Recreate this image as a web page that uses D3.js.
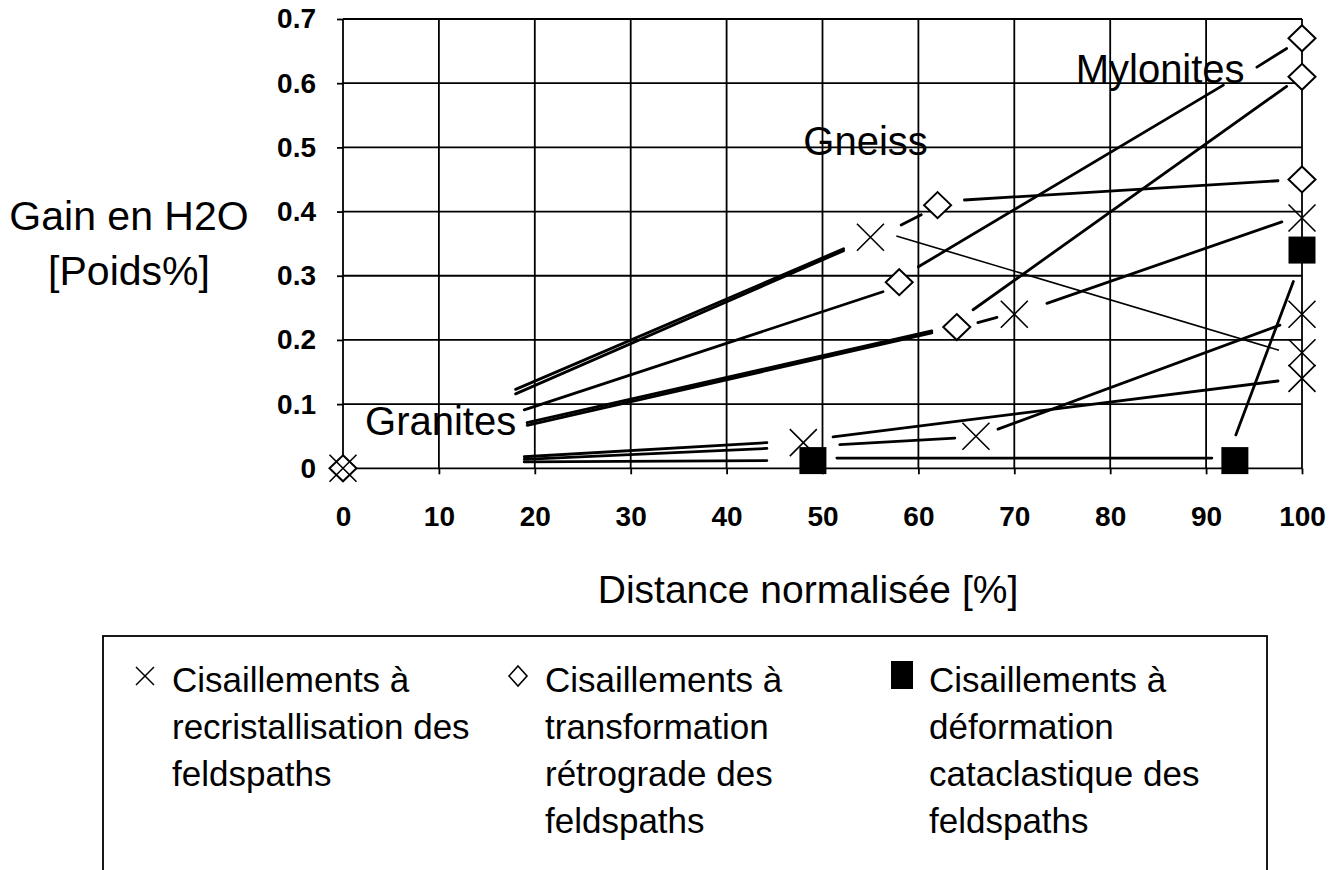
<!DOCTYPE html>
<html>
<head>
<meta charset="utf-8">
<script src="https://cdn.jsdelivr.net/npm/d3@7"></script>
<style>
  body { margin: 0; background: #fff; }
  svg text { font-family: "Liberation Sans", Arial, Helvetica, sans-serif; fill: #000; }
  .tick text { font-weight: bold; font-size: 28px; }
  .tick line { stroke: #000; stroke-width: 1.8; }
  .grid line { stroke: #000; stroke-width: 1.8; }
  .conn { stroke: #000; stroke-width: 2.8; stroke-linecap: round; }
  .conn-thin { stroke: #000; stroke-width: 1.6; }
</style>
</head>
<body>
<div id="chart"></div>
<script>
// axis ticks
var xTicks = [0, 10, 20, 30, 40, 50, 60, 70, 80, 90, 100];
var yTicks = [0, 0.1, 0.2, 0.3, 0.4, 0.5, 0.6, 0.7];

// measured points [distance %, gain H2O wt%]
var recristallisation = [[0, 0], [48, 0.04], [55, 0.36], [66, 0.05], [70, 0.24],
  [100, 0.39], [100, 0.24], [100, 0.18], [100, 0.14]];
var retrograde = [[0, 0], [58, 0.29], [62, 0.41], [64, 0.22],
  [100, 0.67], [100, 0.61], [100, 0.45]];
var cataclastique = [[49, 0.012], [93, 0.012], [100, 0.34]];

// hand drawn connecting segments [x1, y1, x2, y2]
var connectors = [
  [18.0, 0.123, 52.2, 0.342],
  [18.0, 0.116, 52.2, 0.339],
  [18.9, 0.091, 56.3, 0.275],
  [19.2, 0.071, 61.4, 0.214],
  [19.2, 0.067, 61.4, 0.211],
  [18.9, 0.018, 44.2, 0.040],
  [18.9, 0.014, 44.2, 0.031],
  [18.9, 0.010, 44.2, 0.012],
  [58.2, 0.379, 60.3, 0.395],
  [60.0, 0.314, 91.8, 0.597],
  [65.7, 0.247, 98.4, 0.595],
  [64.8, 0.418, 97.5, 0.448],
  [66.2, 0.227, 68.2, 0.235],
  [73.4, 0.257, 97.9, 0.384],
  [95.3, 0.625, 98.4, 0.654],
  [51.1, 0.049, 97.5, 0.136],
  [51.8, 0.037, 63.8, 0.047],
  [51.5, 0.016, 90.6, 0.016],
  [68.3, 0.061, 97.7, 0.223],
  [93.1, 0.052, 99.1, 0.291]
];
var thinConnectors = [[57.7, 0.362, 97.6, 0.184]];

// rock type labels [text, x, y]
var rockLabels = [["Granites", 2.3, 0.052], ["Gneiss", 48, 0.488], ["Mylonites", 76.4, 0.6]];

var legendItems = [
  {type: "cross", lines: ["Cisaillements à", "recristallisation des", "feldspaths"]},
  {type: "diamond", lines: ["Cisaillements à", "transformation", "rétrograde des", "feldspaths"]},
  {type: "square", lines: ["Cisaillements à", "déformation", "cataclastique des", "feldspaths"]}
];

var width = 1342, height = 870;

var x = d3.scaleLinear().domain([0, 100]).range([343, 1302]);
var y = d3.scaleLinear().domain([0, 0.7]).range([468.3, 19]);

var svg = d3.select("#chart").append("svg")
    .attr("width", width)
    .attr("height", height);

// grid
var grid = svg.append("g").attr("class", "grid");
grid.selectAll(".vx").data(xTicks).enter().append("line")
    .attr("x1", function(d) { return x(d); })
    .attr("x2", function(d) { return x(d); })
    .attr("y1", y(0))
    .attr("y2", y(0.7));
grid.selectAll(".hy").data(yTicks).enter().append("line")
    .attr("x1", x(0))
    .attr("x2", x(100))
    .attr("y1", function(d) { return y(d); })
    .attr("y2", function(d) { return y(d); });

// axes
var xAxis = svg.append("g")
    .attr("transform", "translate(0," + y(0) + ")")
    .call(d3.axisBottom(x).tickValues(xTicks).tickSize(6).tickPadding(32).tickFormat(d3.format("d")));
xAxis.select(".domain").remove();

var yAxis = svg.append("g")
    .attr("transform", "translate(" + x(0) + ",0)")
    .call(d3.axisLeft(y).tickValues(yTicks).tickSize(6).tickPadding(21)
      .tickFormat(function(d) { return d === 0 ? "0" : d3.format(".1f")(d); }));
yAxis.select(".domain").remove();

// axis titles
svg.append("text")
    .attr("x", 129).attr("y", 230)
    .attr("text-anchor", "middle")
    .style("font-size", "41px")
    .text("Gain en H2O");
svg.append("text")
    .attr("x", 129).attr("y", 285)
    .attr("text-anchor", "middle")
    .style("font-size", "41px")
    .text("[Poids%]");
svg.append("text")
    .attr("x", 808).attr("y", 603)
    .attr("text-anchor", "middle")
    .style("font-size", "39px")
    .text("Distance normalisée [%]");

// connecting segments
svg.append("g").selectAll("line").data(connectors).enter().append("line")
    .attr("class", "conn")
    .attr("x1", function(d) { return x(d[0]); })
    .attr("y1", function(d) { return y(d[1]); })
    .attr("x2", function(d) { return x(d[2]); })
    .attr("y2", function(d) { return y(d[3]); });
svg.append("g").selectAll("line").data(thinConnectors).enter().append("line")
    .attr("class", "conn-thin")
    .attr("x1", function(d) { return x(d[0]); })
    .attr("y1", function(d) { return y(d[1]); })
    .attr("x2", function(d) { return x(d[2]); })
    .attr("y2", function(d) { return y(d[3]); });

// marker shapes
function crossPath(r) { return "M" + -r + "," + -r + "L" + r + "," + r + "M" + r + "," + -r + "L" + -r + "," + r; }
function diamondPath(w, h) { return "M0," + -h + "L" + w + ",0L0," + h + "L" + -w + ",0Z"; }

svg.append("g").selectAll("path").data(retrograde).enter().append("path")
    .attr("transform", function(d) { return "translate(" + x(d[0]) + "," + y(d[1]) + ")"; })
    .attr("d", diamondPath(13.5, 13))
    .attr("fill", "#fff")
    .attr("stroke", "#000")
    .attr("stroke-width", 2);

svg.append("g").selectAll("path").data(recristallisation).enter().append("path")
    .attr("transform", function(d) { return "translate(" + x(d[0]) + "," + y(d[1]) + ")"; })
    .attr("d", crossPath(13.5))
    .attr("fill", "none")
    .attr("stroke", "#000")
    .attr("stroke-width", 1.6);

svg.append("g").selectAll("rect").data(cataclastique).enter().append("rect")
    .attr("x", function(d) { return x(d[0]) - 13.5; })
    .attr("y", function(d) { return y(d[1]) - 13.5; })
    .attr("width", 27)
    .attr("height", 27)
    .attr("fill", "#000");

// rock labels
svg.append("g").selectAll("text").data(rockLabels).enter().append("text")
    .attr("x", function(d) { return x(d[1]); })
    .attr("y", function(d) { return y(d[2]); })
    .style("font-size", "40px")
    .text(function(d) { return d[0]; });

// legend
svg.append("rect")
    .attr("x", 103).attr("y", 636)
    .attr("width", 1164).attr("height", 300)
    .attr("fill", "none")
    .attr("stroke", "#000")
    .attr("stroke-width", 1.8);

var legendX = [145, 518, 902];
var legend = svg.append("g").selectAll("g").data(legendItems).enter().append("g")
    .attr("transform", function(d, i) { return "translate(" + legendX[i] + ",676)"; });

legend.each(function(d) {
  var g = d3.select(this);
  if (d.type === "cross") {
    g.append("path").attr("d", crossPath(9)).attr("stroke", "#000").attr("stroke-width", 1.5).attr("fill", "none");
  } else if (d.type === "diamond") {
    g.append("path").attr("d", diamondPath(9, 10)).attr("stroke", "#000").attr("stroke-width", 1.6).attr("fill", "#fff");
  } else {
    g.append("rect").attr("x", -11).attr("y", -15).attr("width", 22).attr("height", 28).attr("fill", "#000");
  }
  g.selectAll("text").data(d.lines).enter().append("text")
      .attr("x", 27)
      .attr("y", function(t, j) { return 16 + j * 47; })
      .style("font-size", "35px")
      .text(function(t) { return t; });
});
</script>
</body>
</html>
